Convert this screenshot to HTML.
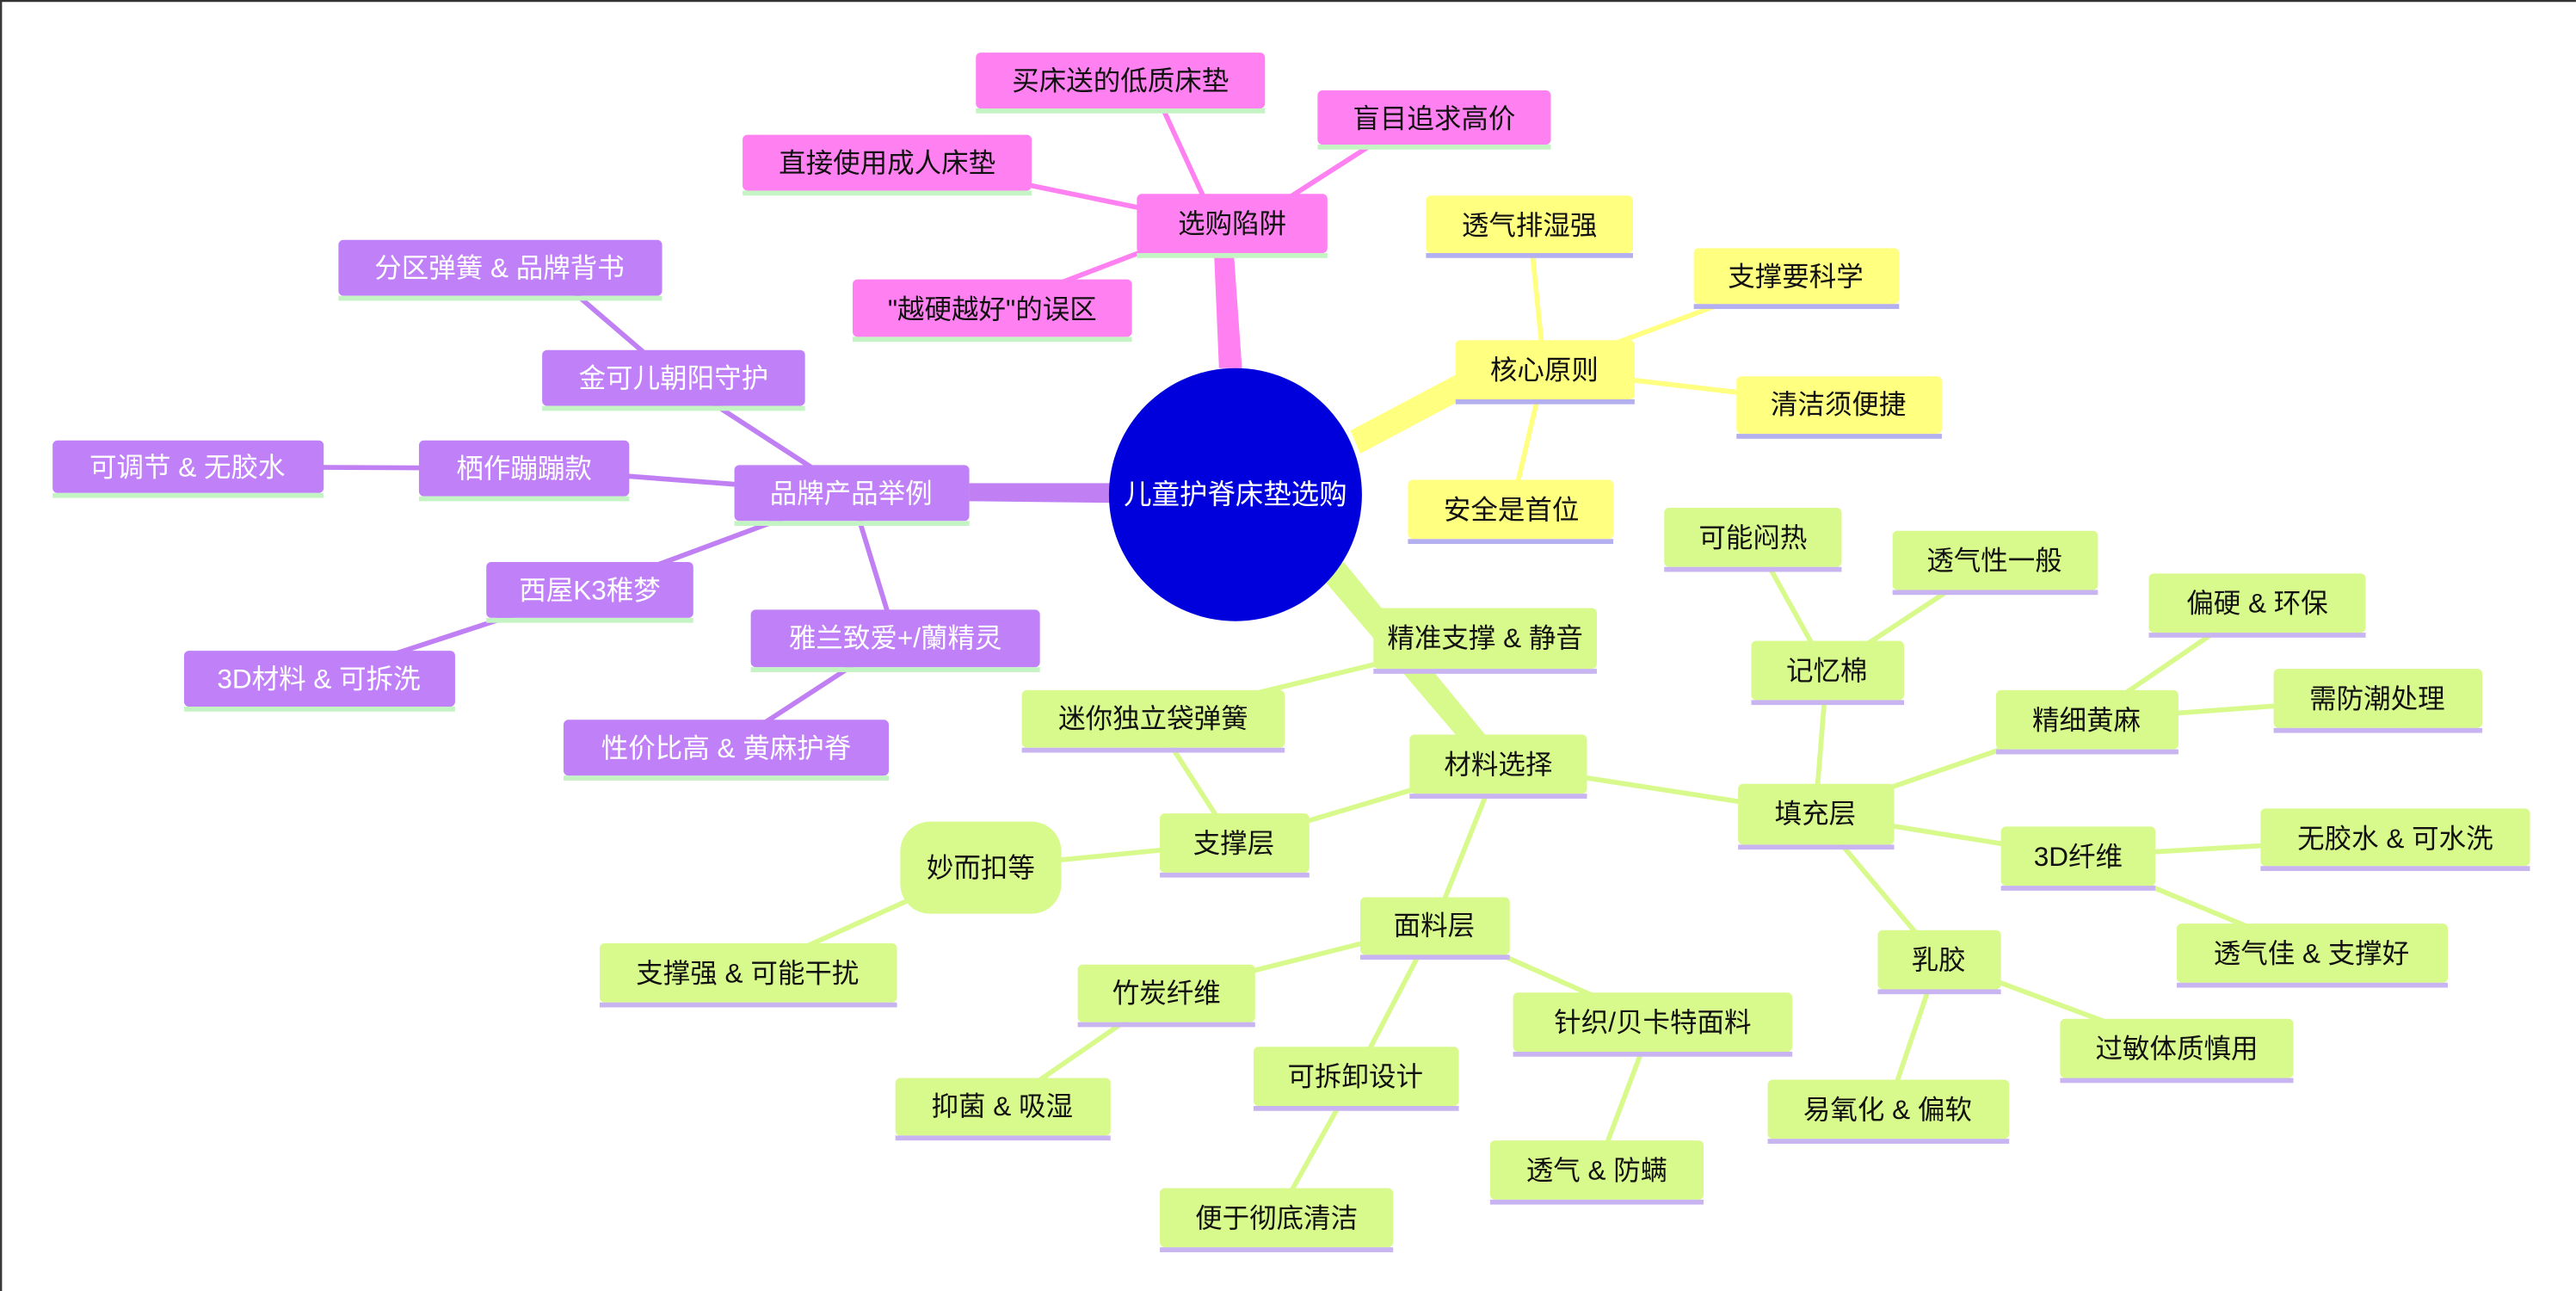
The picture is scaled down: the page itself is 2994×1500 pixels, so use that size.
<!DOCTYPE html>
<html><head><meta charset="utf-8"><style>
html,body{margin:0;padding:0;background:#fff;width:2994px;height:1500px;overflow:hidden}
svg{display:block}
text{font-family:"Liberation Sans","Noto Sans CJK SC",sans-serif;font-size:16.5px;text-anchor:middle;dominant-baseline:central}
</style></head><body>
<svg width="2994" height="1500" viewBox="0 0 1568 785.6" xmlns="http://www.w3.org/2000/svg">
<rect x="0" y="0" width="1568" height="785.6" fill="#fff"/>
<line x1="0" y1="0.6" x2="1568" y2="0.6" stroke="#333" stroke-width="1.2"/>
<line x1="0.6" y1="0" x2="0.6" y2="785.6" stroke="#333" stroke-width="1.2"/>
<g stroke-linecap="round">
<!-- thick -->
<path d="M742,224 L739,154 L751,154 L756,224 Z" fill="#ff80f0"/>
<path d="M822,262 L890,226 L896,240 L828,276 Z" fill="#ffff80"/>
<path d="M676,294 L590,294 L590,305 L676,306 Z" fill="#c080f4"/>
<path d="M805,352 L886,447 L904,447 L818,342 Z" fill="#d8fa8c"/>
<!-- pink -->
<g stroke="#ff80f0" stroke-width="3">
<line x1="740" y1="136" x2="700" y2="49"/><line x1="760" y1="136" x2="860" y2="72"/>
<line x1="740" y1="136" x2="560" y2="99"/><line x1="740" y1="136" x2="604" y2="188"/>
</g>
<g stroke="#ffff80" stroke-width="3">
<line x1="940" y1="225" x2="931" y2="137"/><line x1="940" y1="225" x2="1093" y2="168"/>
<line x1="940" y1="225" x2="1119" y2="246"/><line x1="940" y1="225" x2="920" y2="310"/>
</g>
<g stroke="#c080f4" stroke-width="3">
<line x1="518" y1="300" x2="410" y2="230"/><line x1="410" y1="230" x2="340" y2="170"/>
<line x1="518" y1="300" x2="319" y2="285"/><line x1="319" y1="285" x2="114" y2="284"/>
<line x1="518" y1="300" x2="359" y2="359"/><line x1="359" y1="359" x2="194" y2="413"/>
<line x1="518" y1="300" x2="545" y2="388"/><line x1="545" y1="388" x2="442" y2="455"/>
</g>
<g stroke="#d8fa8c" stroke-width="3">
<line x1="912" y1="465" x2="751" y2="513"/><line x1="912" y1="465" x2="873" y2="563"/><line x1="912" y1="465" x2="1105" y2="495"/>
<line x1="751" y1="513" x2="702" y2="437"/><line x1="702" y1="437" x2="904" y2="388"/>
<line x1="751" y1="513" x2="597" y2="528"/><line x1="597" y1="528" x2="455" y2="592"/>
<line x1="873" y1="563" x2="710" y2="604"/><line x1="710" y1="604" x2="610" y2="673"/>
<line x1="873" y1="563" x2="825" y2="655"/><line x1="825" y1="655" x2="777" y2="741"/>
<line x1="873" y1="563" x2="1006" y2="622"/><line x1="1006" y1="622" x2="972" y2="712"/>
<line x1="1105" y1="495" x2="1112" y2="408"/><line x1="1112" y1="408" x2="1067" y2="327"/><line x1="1112" y1="408" x2="1214" y2="341"/>
<line x1="1105" y1="495" x2="1270" y2="438"/><line x1="1270" y1="438" x2="1374" y2="367"/><line x1="1270" y1="438" x2="1447" y2="425"/>
<line x1="1105" y1="495" x2="1265" y2="521"/><line x1="1265" y1="521" x2="1458" y2="510"/><line x1="1265" y1="521" x2="1407" y2="580"/>
<line x1="1105" y1="495" x2="1180" y2="584"/><line x1="1180" y1="584" x2="1325" y2="638"/><line x1="1180" y1="584" x2="1149" y2="675"/>
</g>
</g>
<ellipse cx="752" cy="301" rx="77" ry="77" fill="#0000dd"/>
<text x="752" y="301" fill="#fff" style="font-size:17px">儿童护脊床垫选购</text>

<!-- pink nodes -->
<g fill="#ff80f0">
<rect x="692" y="118" width="116" height="36" rx="3"/><rect x="594" y="32" width="176" height="34" rx="3"/>
<rect x="802" y="55" width="142" height="33" rx="3"/><rect x="452" y="82" width="176" height="34" rx="3"/>
<rect x="519" y="170" width="170" height="35" rx="3"/>
</g>
<g fill="#c4f4c4">
<rect x="692" y="154" width="116" height="3"/><rect x="594" y="66" width="176" height="3"/>
<rect x="802" y="88" width="142" height="3"/><rect x="452" y="116" width="176" height="3"/>
<rect x="519" y="205" width="170" height="3"/>
</g>
<g fill="#111">
<text x="750" y="136">选购陷阱</text><text x="682" y="49">买床送的低质床垫</text>
<text x="873" y="72">盲目追求高价</text><text x="540" y="99">直接使用成人床垫</text>
<text x="604" y="188">"越硬越好"的误区</text>
</g>
<!-- yellow -->
<g fill="#ffff80">
<rect x="886" y="207" width="109" height="36" rx="3"/><rect x="868" y="119" width="126" height="35" rx="3"/>
<rect x="1031" y="151" width="125" height="34" rx="3"/><rect x="1057" y="229" width="125" height="35" rx="3"/>
<rect x="857" y="292" width="125" height="36" rx="3"/>
</g>
<g fill="#b4b0f0">
<rect x="886" y="243" width="109" height="3"/><rect x="868" y="154" width="126" height="3"/>
<rect x="1031" y="185" width="125" height="3"/><rect x="1057" y="264" width="125" height="3"/>
<rect x="857" y="328" width="125" height="3"/>
</g>
<g fill="#111">
<text x="940" y="225">核心原则</text><text x="931" y="137">透气排湿强</text>
<text x="1093" y="168">支撑要科学</text><text x="1119" y="246">清洁须便捷</text>
<text x="920" y="310">安全是首位</text>
</g>
<!-- purple -->
<g fill="#c080f8">
<rect x="447" y="283" width="143" height="34" rx="3"/><rect x="330" y="213" width="160" height="34" rx="3"/>
<rect x="206" y="146" width="197" height="34" rx="3"/><rect x="255" y="268" width="128" height="34" rx="3"/>
<rect x="32" y="268" width="165" height="32" rx="3"/><rect x="296" y="342" width="126" height="34" rx="3"/>
<rect x="112" y="396" width="165" height="34" rx="3"/><rect x="457" y="371" width="176" height="35" rx="3"/>
<rect x="343" y="438" width="198" height="34" rx="3"/>
</g>
<g fill="#c4f4c4">
<rect x="447" y="317" width="143" height="3"/><rect x="330" y="247" width="160" height="3"/>
<rect x="206" y="180" width="197" height="3"/><rect x="255" y="302" width="128" height="3"/>
<rect x="32" y="300" width="165" height="3"/><rect x="296" y="376" width="126" height="3"/>
<rect x="112" y="430" width="165" height="3"/><rect x="457" y="406" width="176" height="3"/>
<rect x="343" y="472" width="198" height="3"/>
</g>
<g fill="#fff">
<text x="518" y="300">品牌产品举例</text><text x="410" y="230">金可儿朝阳守护</text>
<text x="304" y="163">分区弹簧 &amp; 品牌背书</text><text x="319" y="285">栖作蹦蹦款</text>
<text x="114" y="284">可调节 &amp; 无胶水</text><text x="359" y="359">西屋K3稚梦</text>
<text x="194" y="413">3D材料 &amp; 可拆洗</text><text x="545" y="388">雅兰致爱+/蘭精灵</text>
<text x="442" y="455">性价比高 &amp; 黄麻护脊</text>
</g>
<!-- green -->
<g fill="#d8fa8c">
<rect x="836" y="370" width="136" height="37" rx="3"/><rect x="858" y="447" width="108" height="36" rx="3"/>
<rect x="622" y="420" width="160" height="35" rx="3"/><rect x="706" y="495" width="91" height="36" rx="3"/>
<rect x="548" y="500" width="98" height="56" rx="18"/><rect x="365" y="574" width="181" height="36" rx="3"/>
<rect x="828" y="546" width="91" height="35" rx="3"/><rect x="656" y="587" width="108" height="35" rx="3"/>
<rect x="545" y="656" width="131" height="35" rx="3"/><rect x="763" y="637" width="125" height="36" rx="3"/>
<rect x="706" y="723" width="142" height="36" rx="3"/><rect x="921" y="604" width="170" height="36" rx="3"/>
<rect x="907" y="694" width="130" height="36" rx="3"/><rect x="1058" y="477" width="95" height="37" rx="3"/>
<rect x="1066" y="390" width="93" height="36" rx="3"/><rect x="1013" y="309" width="108" height="36" rx="3"/>
<rect x="1152" y="323" width="125" height="36" rx="3"/><rect x="1215" y="420" width="111" height="36" rx="3"/>
<rect x="1308" y="349" width="132" height="36" rx="3"/><rect x="1384" y="407" width="127" height="36" rx="3"/>
<rect x="1218" y="503" width="94" height="36" rx="3"/><rect x="1376" y="492" width="164" height="35" rx="3"/>
<rect x="1325" y="562" width="165" height="36" rx="3"/><rect x="1143" y="566" width="75" height="36" rx="3"/>
<rect x="1254" y="620" width="142" height="36" rx="3"/><rect x="1076" y="657" width="147" height="36" rx="3"/>
</g>
<g fill="#c8b4f0">
<rect x="836" y="407" width="136" height="3"/><rect x="858" y="483" width="108" height="3"/>
<rect x="622" y="455" width="160" height="3"/><rect x="706" y="531" width="91" height="3"/>
<rect x="365" y="610" width="181" height="3"/>
<rect x="828" y="581" width="91" height="3"/><rect x="656" y="622" width="108" height="3"/>
<rect x="545" y="691" width="131" height="3"/><rect x="763" y="673" width="125" height="3"/>
<rect x="706" y="759" width="142" height="3"/><rect x="921" y="640" width="170" height="3"/>
<rect x="907" y="730" width="130" height="3"/><rect x="1058" y="514" width="95" height="3"/>
<rect x="1066" y="426" width="93" height="3"/><rect x="1013" y="345" width="108" height="3"/>
<rect x="1152" y="359" width="125" height="3"/><rect x="1215" y="456" width="111" height="3"/>
<rect x="1308" y="385" width="132" height="3"/><rect x="1384" y="443" width="127" height="3"/>
<rect x="1218" y="539" width="94" height="3"/><rect x="1376" y="527" width="164" height="3"/>
<rect x="1325" y="598" width="165" height="3"/><rect x="1143" y="602" width="75" height="3"/>
<rect x="1254" y="656" width="142" height="3"/><rect x="1076" y="693" width="147" height="3"/>
</g>
<g fill="#111">
<text x="904" y="388">精准支撑 &amp; 静音</text><text x="912" y="465">材料选择</text>
<text x="702" y="437">迷你独立袋弹簧</text><text x="751" y="513">支撑层</text>
<text x="597" y="528">妙而扣等</text><text x="455" y="592">支撑强 &amp; 可能干扰</text>
<text x="873" y="563">面料层</text><text x="710" y="604">竹炭纤维</text>
<text x="610" y="673">抑菌 &amp; 吸湿</text><text x="825" y="655">可拆卸设计</text>
<text x="777" y="741">便于彻底清洁</text><text x="1006" y="622">针织/贝卡特面料</text>
<text x="972" y="712">透气 &amp; 防螨</text><text x="1105" y="495">填充层</text>
<text x="1112" y="408">记忆棉</text><text x="1067" y="327">可能闷热</text>
<text x="1214" y="341">透气性一般</text><text x="1270" y="438">精细黄麻</text>
<text x="1374" y="367">偏硬 &amp; 环保</text><text x="1447" y="425">需防潮处理</text>
<text x="1265" y="521">3D纤维</text><text x="1458" y="510">无胶水 &amp; 可水洗</text>
<text x="1407" y="580">透气佳 &amp; 支撑好</text><text x="1180" y="584">乳胶</text>
<text x="1325" y="638">过敏体质慎用</text><text x="1149" y="675">易氧化 &amp; 偏软</text>
</g>
</svg>
</body></html>
